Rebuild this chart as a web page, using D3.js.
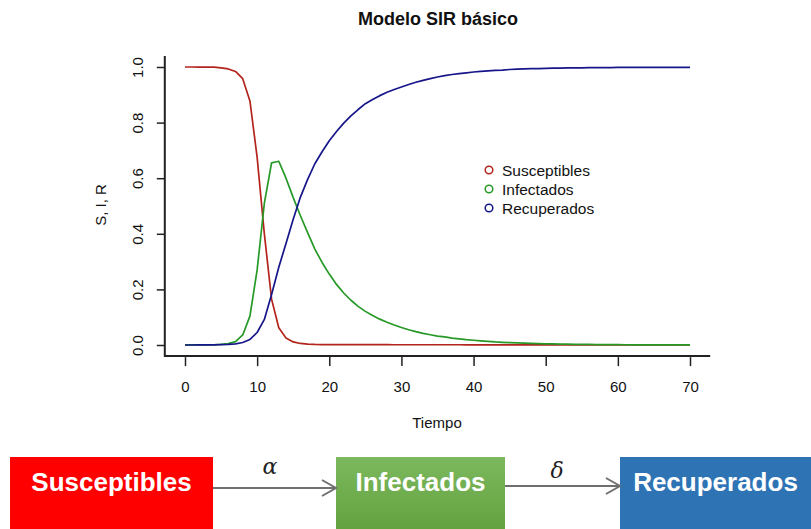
<!DOCTYPE html>
<html>
<head>
<meta charset="utf-8">
<script src="https://cdn.jsdelivr.net/npm/d3@7"></script>
<style>
  body { margin: 0; background: #fff; }
  svg { display: block; font-family: "Liberation Sans", Arial, sans-serif; }
</style>
</head>
<body>
<div id="chart"></div>
<script>
// tiempo (integer steps) and the three compartments
const tiempo = d3.range(0, 71);

const susceptibles = [
  1.0, 1.0, 0.9999, 0.9998, 0.9993, 0.997, 0.993, 0.984, 0.958, 0.878,
  0.675, 0.40, 0.165, 0.062, 0.025, 0.011, 0.0055, 0.0032, 0.002, 0.0015,
  0.0012, 0.0011, 0.0011, 0.001, 0.001, 0.001, 0.001, 0.001, 0.001, 0.0009,
  0.0009, 0.0009, 0.0009, 0.0009, 0.0009, 0.0009, 0.0009, 0.0009, 0.0009, 0.0008,
  0.0008, 0.0008, 0.0008, 0.0008, 0.0008, 0.0008, 0.0008, 0.0008, 0.0008, 0.0008,
  0.0008, 0.0008, 0.0008, 0.0008, 0.0008, 0.0008, 0.0008, 0.0008, 0.0008, 0.0008,
  0.0008, 0.0008, 0.0008, 0.0008, 0.0008, 0.0008, 0.0008, 0.0008, 0.0008, 0.0008,
  0.0008
];

const infectados = [
  0.0001, 0.0002, 0.0003, 0.0005, 0.0009, 0.002, 0.005, 0.012, 0.036, 0.104,
  0.27, 0.51, 0.655, 0.661, 0.60, 0.53, 0.465, 0.404, 0.345, 0.297,
  0.255, 0.218, 0.187, 0.161, 0.139, 0.121, 0.106, 0.093, 0.082, 0.072,
  0.063, 0.055, 0.048, 0.042, 0.037, 0.032, 0.029, 0.025, 0.022, 0.019,
  0.017, 0.015, 0.013, 0.011, 0.0097, 0.0085, 0.0074, 0.0065, 0.0056, 0.0049,
  0.0043, 0.0037, 0.0032, 0.0028, 0.0025, 0.0021, 0.0019, 0.0016, 0.0014, 0.0012,
  0.0011, 0.0009, 0.0008, 0.0007, 0.0006, 0.0005, 0.0005, 0.0004, 0.0003, 0.0003,
  0.0003
];

const recuperados = [
  0, 0, 0.0001, 0.0002, 0.0004, 0.001, 0.002, 0.004, 0.009, 0.02,
  0.045, 0.092, 0.182, 0.28, 0.365, 0.452, 0.532, 0.596, 0.652, 0.695,
  0.735, 0.768, 0.798, 0.824, 0.847, 0.868, 0.883, 0.897, 0.909, 0.919,
  0.928, 0.937, 0.945, 0.952, 0.958, 0.964, 0.969, 0.973, 0.976, 0.979,
  0.982, 0.984, 0.986, 0.988, 0.989, 0.991, 0.992, 0.993, 0.994, 0.994,
  0.995, 0.996, 0.996, 0.997, 0.997, 0.997, 0.998, 0.998, 0.998, 0.998,
  0.999, 0.999, 0.999, 0.999, 0.999, 0.999, 0.999, 0.999, 0.999, 0.999,
  0.999
];

const seriesNames = ["Susceptibles", "Infectados", "Recuperados"];
const seriesColors = ["#b3241c", "#269926", "#16168a"];
const xTicks = [0, 10, 20, 30, 40, 50, 60, 70];
const yTicks = [0, 0.2, 0.4, 0.6, 0.8, 1.0];

const W = 811, H = 529;

const svg = d3.select("#chart").append("svg")
    .attr("width", W)
    .attr("height", H);

svg.append("rect").attr("width", W).attr("height", H).attr("fill", "#fff");

const x = d3.scaleLinear().domain([0, 70]).range([185, 690]);
const y = d3.scaleLinear().domain([0, 1]).range([345, 67]);

// R style "l" box: 4% padding around data range
const xLeft = x(-2.8), xRight = x(72.8);
const yBottom = y(-0.04), yTop = y(1.04);

const boxG = svg.append("g");
boxG.append("path")
    .attr("d", `M${xLeft},${yTop}V${yBottom}H${xRight}`)
    .attr("fill", "none")
    .attr("stroke", "#222")
    .attr("stroke-width", 2);

// y axis
const yAxis = d3.axisLeft(y)
    .tickValues(yTicks)
    .tickFormat(d3.format(".1f"))
    .tickSize(8)
    .tickSizeOuter(0);

const yG = svg.append("g")
    .attr("transform", `translate(${xLeft},0)`)
    .call(yAxis);
yG.select(".domain").remove();
yG.selectAll(".tick line").attr("stroke", "#222").attr("stroke-width", 1.5);
yG.selectAll(".tick text")
    .attr("x", null).attr("dy", null)
    .attr("text-anchor", "middle")
    .attr("transform", "translate(-22,0) rotate(-90)")
    .attr("font-size", 15)
    .attr("fill", "#111")
    .attr("font-family", "Liberation Sans, Arial, sans-serif");

// x axis
const xAxis = d3.axisBottom(x)
    .tickValues(xTicks)
    .tickFormat(d3.format("d"))
    .tickSize(9)
    .tickSizeOuter(0);

const xG = svg.append("g")
    .attr("transform", `translate(0,${yBottom + 1})`)
    .call(xAxis);
xG.select(".domain").remove();
xG.selectAll(".tick line").attr("stroke", "#222").attr("stroke-width", 1.5);
xG.selectAll(".tick text")
    .attr("y", 24)
    .attr("font-size", 15)
    .attr("fill", "#111")
    .attr("font-family", "Liberation Sans, Arial, sans-serif");

// titles
svg.append("text")
    .attr("x", 438).attr("y", 25)
    .attr("text-anchor", "middle")
    .attr("font-size", 18)
    .attr("font-weight", "bold")
    .attr("fill", "#111")
    .text("Modelo SIR básico");

svg.append("text")
    .attr("x", 437).attr("y", 428)
    .attr("text-anchor", "middle")
    .attr("font-size", 15)
    .attr("fill", "#111")
    .text("Tiempo");

svg.append("text")
    .attr("transform", "translate(106,205) rotate(-90)")
    .attr("text-anchor", "middle")
    .attr("font-size", 15)
    .attr("fill", "#111")
    .text("S, I, R");

// curves
const series = [susceptibles, infectados, recuperados];
const line = d3.line()
    .x((d, i) => x(tiempo[i]))
    .y(d => y(d));

series.forEach((s, i) => {
    svg.append("path")
        .datum(s)
        .attr("d", line)
        .attr("fill", "none")
        .attr("stroke", seriesColors[i])
        .attr("stroke-width", 1.7)
        .attr("stroke-linejoin", "round");
});

// legend
const legend = svg.append("g").attr("transform", "translate(489,170)");
seriesNames.forEach((name, i) => {
    const row = legend.append("g").attr("transform", `translate(0,${i * 19})`);
    row.append("circle")
        .attr("r", 3.8)
        .attr("fill", "none")
        .attr("stroke", seriesColors[i])
        .attr("stroke-width", 1.5);
    row.append("text")
        .attr("x", 13).attr("y", 5.5)
        .attr("font-size", 15.5)
        .attr("fill", "#111")
        .text(name);
});

// compartment diagram under the chart
const boxes = [
    {label: "Susceptibles", x0: 10, x1: 213, fill: "#ff0000"},
    {label: "Infectados", x0: 336, x1: 505, fill: "url(#greenGrad)"},
    {label: "Recuperados", x0: 620, x1: 811, fill: "#2e74b5"}
];
const arrows = [
    {x0: 213, x1: 336, y: 488, sym: "α", sx: 270, sy: 474},
    {x0: 505, x1: 620, y: 486, sym: "δ", sx: 557, sy: 478}
];

const defs = svg.append("defs");
const grad = defs.append("linearGradient")
    .attr("id", "greenGrad")
    .attr("x1", 0).attr("y1", 0).attr("x2", 0).attr("y2", 1);
grad.append("stop").attr("offset", "0%").attr("stop-color", "#7cb95e");
grad.append("stop").attr("offset", "100%").attr("stop-color", "#5e9c38");

const diag = svg.append("g");
boxes.forEach(b => {
    diag.append("rect")
        .attr("x", b.x0).attr("y", 457)
        .attr("width", b.x1 - b.x0).attr("height", 90)
        .attr("fill", b.fill);
    diag.append("text")
        .attr("x", (b.x0 + b.x1) / 2).attr("y", 491)
        .attr("text-anchor", "middle")
        .attr("font-size", 26)
        .attr("font-weight", "bold")
        .attr("fill", "#fff")
        .text(b.label);
});

arrows.forEach(a => {
    diag.append("line")
        .attr("x1", a.x0).attr("x2", a.x1)
        .attr("y1", a.y).attr("y2", a.y)
        .attr("stroke", "#6f6f6f").attr("stroke-width", 2);
    diag.append("path")
        .attr("d", `M${a.x1 - 14},${a.y - 8}L${a.x1},${a.y}L${a.x1 - 14},${a.y + 8}`)
        .attr("fill", "none")
        .attr("stroke", "#6f6f6f").attr("stroke-width", 2);
    diag.append("text")
        .attr("x", a.sx).attr("y", a.sy)
        .attr("text-anchor", "middle")
        .attr("font-family", "DejaVu Serif, serif")
        .attr("font-style", "italic")
        .attr("font-size", 22)
        .attr("fill", "#222")
        .text(a.sym);
});
</script>
</body>
</html>
